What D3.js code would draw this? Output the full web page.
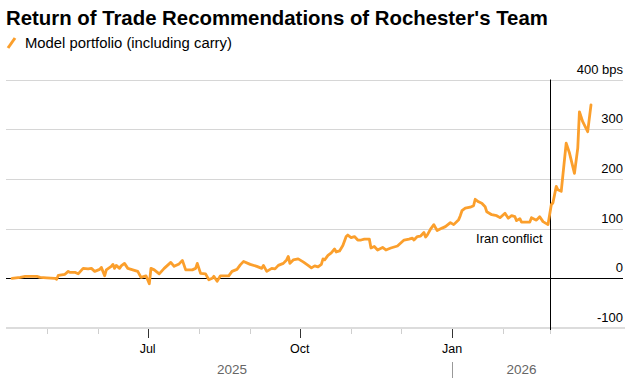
<!DOCTYPE html>
<html>
<head>
<meta charset="utf-8">
<script src="https://cdn.jsdelivr.net/npm/d3@7"></script>
<style>
  html, body { margin: 0; padding: 0; background: #fff; }
  svg { display: block; font-family: "Liberation Sans", Arial, Helvetica, sans-serif; }
</style>
</head>
<body>
<svg id="chart" width="636" height="378"></svg>
<script>
// ---- Data ----
const titleText = "Return of Trade Recommendations of Rochester's Team";
const seriesName = "Model portfolio (including carry)";
const eventLabel = "Iran conflict";
const eventDate = "2026-03-01";

const dates = [
  "2025-04-10","2025-04-15","2025-04-18","2025-04-25","2025-04-27","2025-05-01","2025-05-06","2025-05-07","2025-05-08","2025-05-12",
  "2025-05-14","2025-05-15","2025-05-18","2025-05-20","2025-05-23","2025-05-26","2025-05-28","2025-05-30","2025-06-02","2025-06-03",
  "2025-06-05","2025-06-06","2025-06-09","2025-06-10","2025-06-11","2025-06-12","2025-06-14","2025-06-15","2025-06-17","2025-06-19",
  "2025-06-22","2025-06-25","2025-06-27","2025-06-30","2025-07-02","2025-07-03","2025-07-05","2025-07-08","2025-07-11","2025-07-15",
  "2025-07-17","2025-07-20","2025-07-22","2025-07-24","2025-07-28","2025-07-30","2025-07-31","2025-08-02","2025-08-05","2025-08-07",
  "2025-08-09","2025-08-10","2025-08-12","2025-08-14","2025-08-19","2025-08-21","2025-08-24","2025-08-26","2025-08-28","2025-09-01",
  "2025-09-05","2025-09-08","2025-09-09","2025-09-11","2025-09-14","2025-09-16","2025-09-18","2025-09-21","2025-09-23","2025-09-24",
  "2025-09-25","2025-09-27","2025-09-30","2025-10-03","2025-10-06","2025-10-08","2025-10-10","2025-10-12","2025-10-14","2025-10-15",
  "2025-10-16","2025-10-18","2025-10-20","2025-10-22","2025-10-23","2025-10-25","2025-10-27","2025-10-29","2025-10-30","2025-11-01",
  "2025-11-03","2025-11-05","2025-11-07","2025-11-09","2025-11-12","2025-11-13","2025-11-15","2025-11-17","2025-11-20","2025-11-22",
  "2025-11-25","2025-11-29","2025-12-01","2025-12-03","2025-12-06","2025-12-08","2025-12-09","2025-12-11","2025-12-13","2025-12-15",
  "2025-12-16","2025-12-17","2025-12-19","2025-12-21","2025-12-23","2025-12-26","2025-12-28","2025-12-31","2026-01-02","2026-01-05",
  "2026-01-06","2026-01-07","2026-01-09","2026-01-12","2026-01-14","2026-01-15","2026-01-17","2026-01-19","2026-01-21","2026-01-22",
  "2026-01-25","2026-01-28","2026-01-30","2026-02-02","2026-02-04","2026-02-06","2026-02-08","2026-02-09","2026-02-11","2026-02-12",
  "2026-02-17","2026-02-18","2026-02-21","2026-02-23","2026-02-25","2026-02-28","2026-03-02","2026-03-03","2026-03-05","2026-03-06",
  "2026-03-08","2026-03-11","2026-03-13","2026-03-16","2026-03-18","2026-03-19","2026-03-21","2026-03-24","2026-03-26"
];
const values = [
  0, 2, 4, 4, 2, 1, 0, -2, 6, 8,
  14, 12, 12, 9, 20, 19, 20, 14, 18, 22,
  5, 17, 24, 28, 20, 26, 20, 25, 30, 20,
  17, 14, 2, 5, -11, 20, 17, 9, 20, 32,
  24, 29, 36, 17, 17, 20, 30, 10, 9, -3,
  0, 4, -6, 5, 5, 14, 18, 27, 34, 28,
  24, 20, 26, 14, 20, 19, 26, 30, 37, 44,
  30, 37, 39, 33, 26, 21, 25, 23, 28, 39,
  37, 46, 51, 59, 53, 55, 66, 84, 87, 82,
  84, 77, 77, 79, 79, 61, 64, 57, 62, 57,
  61, 65, 71, 77, 79, 81, 77, 84, 85, 92,
  83, 87, 99, 108, 96, 101, 104, 112, 108, 118,
  126, 136, 141, 143, 146, 159, 154, 151, 144, 134,
  128, 126, 122, 131, 121, 126, 124, 116, 120, 113,
  113, 122, 117, 124, 114, 108, 148, 152, 185, 178,
  175, 272, 252, 211, 262, 335, 315, 295, 349
];
const yTicks = [-100, 0, 100, 200, 300, 400];
const yTickLabels = ["-100", "0", "100", "200", "300", "400 bps"];
const majorMonths = ["Jul", "Oct", "Jan"];
const yearLabels = ["2025", "2026"];

// ---- Layout ----
const W = 636, H = 378;
const gridLeft = 6, gridRight = 623;
const orange = "#fb9f2c";
const parse = d3.timeParse("%Y-%m-%d");
const data = dates.map((d, i) => ({ date: parse(d), value: values[i] }));

const svg = d3.select("#chart");

const x = d3.scaleTime()
  .domain(d3.extent(data, d => d.date))
  .range([12, 591]);
const y = d3.scaleLinear()
  .domain([-100, 400])
  .range([328, 79.5]);

// Title
const title = svg.append("text")
  .attr("x", 6).attr("y", 25)
  .attr("font-weight", "bold")
  .attr("font-size", 19)
  .attr("fill", "#000")
  .text(titleText);
const tw = title.node().getComputedTextLength();
title.attr("font-size", 19 * 542 / tw);

// Legend
svg.append("line")
  .attr("x1", 8).attr("y1", 48).attr("x2", 15).attr("y2", 38)
  .attr("stroke", orange).attr("stroke-width", 3).attr("stroke-linecap", "butt");
const leg = svg.append("text")
  .attr("x", 25).attr("y", 48)
  .attr("font-size", 13.5)
  .attr("fill", "#000")
  .text(seriesName);
const lw = leg.node().getComputedTextLength();
leg.attr("font-size", 13.5 * 207 / lw);

// Gridlines
const grid = svg.append("g");
grid.selectAll("line")
  .data(yTicks.filter(t => t !== 0 && t !== -100))
  .join("line")
  .attr("x1", gridLeft).attr("x2", gridRight)
  .attr("y1", d => Math.round(y(d)) + 0.5).attr("y2", d => Math.round(y(d)) + 0.5)
  .attr("stroke", "#d6d6d6").attr("stroke-width", 1);

// Bottom axis line (-100)
svg.append("line")
  .attr("x1", gridLeft).attr("x2", gridRight + 2)
  .attr("y1", y(-100)).attr("y2", y(-100))
  .attr("stroke", "#dcdcdc").attr("stroke-width", 2);

// Y labels
svg.append("g").selectAll("text")
  .data(yTicks)
  .join("text")
  .attr("x", gridRight)
  .attr("y", d => y(d) - 6)
  .attr("text-anchor", "end")
  .attr("font-size", 13)
  .attr("fill", "#000")
  .text((d, i) => yTickLabels[i]);

// X ticks: months
const months = d3.timeMonth.range(d3.timeMonth.ceil(x.domain()[0]), x.domain()[1]);
const fmtMonth = d3.timeFormat("%b");
const tickG = svg.append("g");
months.forEach(m => {
  const isMajor = majorMonths.includes(fmtMonth(m));
  const xm = Math.round(x(m)) + 0.5;
  tickG.append("line")
    .attr("x1", xm).attr("x2", xm)
    .attr("y1", 329).attr("y2", isMajor ? 338 : 334)
    .attr("stroke", isMajor ? "#333" : "#cfcfcf").attr("stroke-width", 1);
  if (isMajor) {
    tickG.append("text")
      .attr("x", x(m)).attr("y", 353)
      .attr("text-anchor", "middle")
      .attr("font-size", 12.5)
      .attr("fill", "#000")
      .text(fmtMonth(m));
  }
});

// Year labels & separator
const years = [parse("2025-01-01"), parse("2026-01-01"), parse("2027-01-01")];
const [d0, d1] = x.domain();
yearLabels.forEach((lab, i) => {
  const a = d3.max([years[i], d0]);
  const b = d3.min([years[i + 1], d1]);
  svg.append("text")
    .attr("x", (x(a) + x(b)) / 2).attr("y", 374)
    .attr("text-anchor", "middle")
    .attr("font-size", 13.5)
    .attr("fill", "#666")
    .text(lab);
});
svg.append("line")
  .attr("x1", Math.round(x(years[1])) + 0.5).attr("x2", Math.round(x(years[1])) + 0.5)
  .attr("y1", 362).attr("y2", 378)
  .attr("stroke", "#999").attr("stroke-width", 1);

// Zero line
svg.append("line")
  .attr("x1", gridLeft).attr("x2", gridRight)
  .attr("y1", Math.round(y(0)) + 0.5).attr("y2", Math.round(y(0)) + 0.5)
  .attr("stroke", "#000").attr("stroke-width", 1);

// Event line
const ex = Math.round(x(parse(eventDate))) + 0.5;
svg.append("line")
  .attr("x1", ex).attr("x2", ex)
  .attr("y1", y(400)).attr("y2", 330)
  .attr("stroke", "#000").attr("stroke-width", 1);
svg.append("text")
  .attr("x", ex - 8).attr("y", 243)
  .attr("text-anchor", "end")
  .attr("font-size", 13)
  .attr("fill", "#000")
  .text(eventLabel);

// Series line
const line = d3.line()
  .x(d => x(d.date))
  .y(d => y(d.value));
svg.append("path")
  .datum(data)
  .attr("d", line)
  .attr("fill", "none")
  .attr("stroke", orange)
  .attr("stroke-width", 2.8)
  .attr("stroke-linejoin", "round")
  .attr("stroke-linecap", "round");
</script>
</body>
</html>
